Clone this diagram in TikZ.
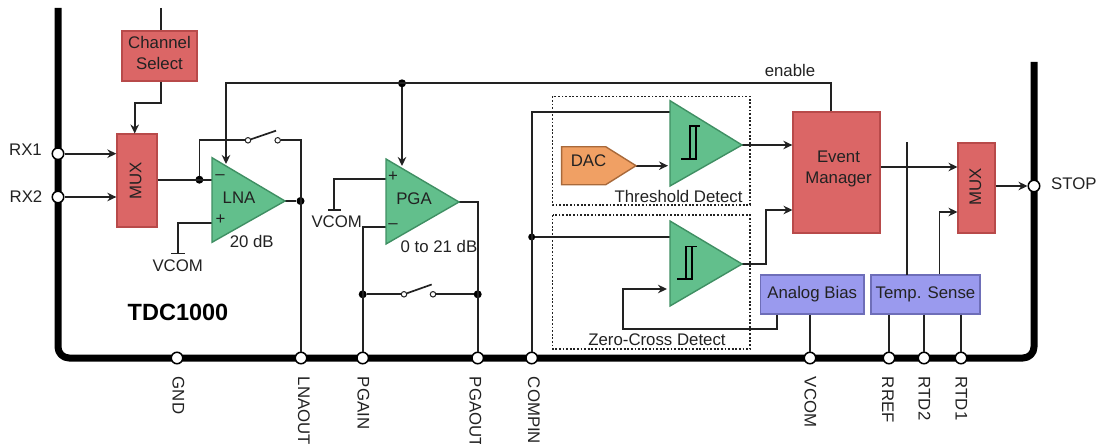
\documentclass[tikz,border=0pt]{standalone}
\usepackage{fontspec}
\setmainfont{Liberation Sans}
\usetikzlibrary{arrows.meta,calc}
\definecolor{redfill}{HTML}{DB6666}
\definecolor{redline}{HTML}{B84A4A}
\definecolor{greenfill}{HTML}{62BF8C}
\definecolor{greenline}{HTML}{3F8F63}
\definecolor{bluefill}{HTML}{9A9AEE}
\definecolor{blueline}{HTML}{6E6EB8}
\definecolor{orangefill}{HTML}{F0A064}
\definecolor{orangeline}{HTML}{A8693A}
\definecolor{ink}{HTML}{222222}
\tikzset{
  lbl/.style={font=\fontsize{16.8}{20}\selectfont,text=ink,inner sep=0pt,align=center},
  pinlbl/.style={lbl,rotate=-90,anchor=west},
  redbox/.style={draw=redline,fill=redfill,line width=1.3pt,minimum width=#1,inner sep=0pt},
  bluebox/.style={lbl,draw=blueline,fill=bluefill,line width=1.3pt,inner sep=0pt,minimum height=39pt},
  wire/.style={draw=ink,line width=1.7pt},
  arrowwire/.style={wire,-{Stealth[length=9pt,width=8.5pt]}},
  amp/.style={draw=greenline,fill=greenfill,line width=1.4pt,line join=miter},
  hyst/.style={draw=black,line width=1.2pt},
  pin/.style={circle,draw=black,fill=white,line width=1.5pt,minimum size=11.5pt,inner sep=0pt},
  dotj/.style={circle,fill=black,minimum size=8pt,inner sep=0pt},
  swc/.style={circle,draw=ink,fill=white,line width=1pt,minimum size=5.5pt,inner sep=0pt},
  dotbox/.style={draw=ink,line width=1.2pt,dash pattern=on 1.8pt off 1.8pt},
}
\begin{document}
\begin{tikzpicture}[x=1pt,y=-1pt]
\useasboundingbox (0,0) rectangle (1096,444);
\clip (0,0) rectangle (1096,444);
\draw[line width=7pt,line join=round,rounded corners=11pt] (58,8) -- (58,358) -- (1034,358) -- (1034,62);
% dotted boxes
\draw[dotbox] (552.5,96.5) rectangle (750,205);
\draw[dotbox] (552.5,215) rectangle (750,349);
% blocks
\node[redbox=75pt,minimum height=50pt] (chsel) at (159.5,56) {};
\node[redbox=40pt,minimum height=93pt] (muxa) at (137,180.5) {};
\node[redbox=87pt,minimum height=121pt] (event) at (836.5,172.5) {};
\node[redbox=37pt,minimum height=90pt] (muxb) at (976.5,188) {};
\node[bluebox,minimum width=103.5pt] (bias) at (812.2,294.5) {Analog Bias};
\node[bluebox,minimum width=109pt] (temp) at (925.5,294.5) {Temp. Sense};
% coordinates
\coordinate (chtop) at (161,8);
\coordinate (enR) at (831,83);
\coordinate (enL) at (226,83);
\coordinate (lnaTip) at (285,201);
\coordinate (pgaTip) at (459,202);
\coordinate (cmpATip) at (742,145);
\coordinate (cmpBTip) at (742,264);
% pins
\node[pin] (rx1) at (58,153.7) {};
\node[pin] (rx2) at (58,197) {};
\node[pin] (stop) at (1034,186) {};
\node[pin] (gnd) at (177,358) {};
\node[pin] (lnaout) at (301,358) {};
\node[pin] (pgain) at (362.7,358) {};
\node[pin] (pgaout) at (477.7,358) {};
\node[pin] (compin) at (531.7,358) {};
\node[pin] (vcom) at (810,358) {};
\node[pin] (rref) at (889,358) {};
\node[pin] (rtd2) at (924,358) {};
\node[pin] (rtd1) at (961,358) {};
% junctions
\node[dotj] (jin) at (199.4,179.7) {};
\node[dotj] (jout) at (300.5,201) {};
\node[dotj] (jen) at (402,83.3) {};
\node[dotj] (jpl) at (362.7,294.3) {};
\node[dotj] (jpr) at (477.7,294.3) {};
\node[dotj,minimum size=7pt] (jcmp) at (531.7,237) {};
% switches
\node[swc] (swa1) at (248,140.3) {};
\node[swc] (swa2) at (277.7,140.3) {};
\coordinate (swaL) at (276,130.7);
\node[swc] (swb1) at (404,294.3) {};
\node[swc] (swb2) at (433,294.3) {};
\coordinate (swbL) at (431.7,284.5);
% tee labels
\coordinate (teeA) at (177.7,253.5);
\coordinate (teeAl) at (171,253.5);
\coordinate (teeAr) at (184.5,253.5);
\coordinate (teeB) at (334.3,210);
\coordinate (teeBl) at (328,210);
\coordinate (teeBr) at (341,210);
% wires behind the amplifiers
\draw[wire] (chtop) -- (chsel.north -| chtop);
\draw[arrowwire] (chsel.south -| chtop) |- (134.7,102.7) -- (134.7,133.5);
\draw[arrowwire] (rx1) -- (rx1 -| muxa.west);
\draw[arrowwire] (rx2) -- (rx2 -| muxa.west);
\draw[wire] (jin -| muxa.east) -- (212,179.7);
\draw[wire] (jin) |- (swa1);
\draw[wire] (swa1) -- (swaL);
\draw[wire] (swa2) -| (lnaout);
\draw[wire] (teeA) |- (212,222.7);
\draw[wire] (teeAl) -- (teeAr);
\draw[wire] (lnaTip) -- (jout);
\draw[wire] (event.north -| enR) -- (enR) -- (enL) -- (226,150);
\draw[wire] (jen) -- (402,150);
\draw[wire] (teeB) |- (386,179);
\draw[wire] (teeBl) -- (teeBr);
\draw[wire] (386,227.3) -| (pgain);
\draw[wire] (pgaTip) -| (pgaout);
\draw[wire] (jpl) -- (swb1);
\draw[wire] (swb1) -- (swbL);
\draw[wire] (swb2) -- (jpr);
\draw[wire] (670,112) -| (compin);
\draw[wire] (jcmp) -- (670,237);
\draw[arrowwire] (636,165.7) -- (668,165.7);
\draw[arrowwire] (cmpATip) -- (cmpATip -| event.west);
\draw[arrowwire] (cmpBTip) -- (766,264) -- (766,210) -- (792.5,210);
\draw[arrowwire] (bias.south -| 777,0) |- (623,328.7) |- (667,289);
\draw[wire] (bias.south -| vcom) -- (vcom);
\draw[wire] (temp.south -| rref) -- (rref);
\draw[wire] (temp.south -| rtd2) -- (rtd2);
\draw[wire] (temp.south -| rtd1) -- (rtd1);
\draw[wire] (907,142) -- (907,275);
\draw[arrowwire] (temp.north -| 939.5,0) |- (957.5,212);
\draw[arrowwire] (event.east |- 0,167) -- (957.5,167);
\draw[arrowwire] (muxb.east |- stop) -- (stop.west);
% amplifiers
\path[amp] (212,157.7) -- (lnaTip) -- (212,242.3) -- cycle;
\path[amp] (386,159) -- (pgaTip) -- (386,244) -- cycle;
\path[amp] (670,100.7) -- (cmpATip) -- (670,186) -- cycle;
\path[amp] (670,221) -- (cmpBTip) -- (670,306) -- cycle;
\path[draw=orangeline,fill=orangefill,line width=1.4pt] (561.6,146.7) -- (605.7,146.7) -- (636,165.7) -- (605.7,184.7) -- (561.6,184.7) -- cycle;
% arrowheads that land on the amplifiers
\draw[arrowwire] (226,150) -- (226,164);
\draw[arrowwire] (402,150) -- (402,166);
% hysteresis
\draw[hyst] (681,159) -- (696,159) -- (696,126) -- (690,126) -- (690,159);
\draw[hyst] (690,126) -- (700,126);
\draw[hyst] (677,279) -- (692,279) -- (692,246.7) -- (686,246.7) -- (686,279);
\draw[hyst] (692,246.7) -- (696.6,246.7);
% labels
\node[lbl] (tch) at (159.5,53) {Channel\\[1pt]Select};
\node[lbl,rotate=90] (tmuxa) at (135.8,180.5) {MUX};
\node[lbl] (tev) at (838.5,168.5) {Event\\[1pt]Manager};
\node[lbl,rotate=90] (tmuxb) at (975.5,187) {MUX};
\node[lbl] (tdac) at (588.5,161) {DAC};
\node[lbl] (tlna) at (239,198) {LNA};
\node[lbl] (tpga) at (414,199) {PGA};
\node[lbl] (tm1) at (220,177.5) {--};
\node[lbl] (tp1) at (220.5,220) {+};
\node[lbl] (tp2) at (393,176.5) {+};
\node[lbl] (tm2) at (393,226) {--};
\node[lbl] (t20) at (251.7,241.7) {20 dB};
\node[lbl] (t21) at (439,246.7) {0 to 21 dB};
\node[lbl] (tva) at (177.7,265.7) {VCOM};
\node[lbl] (tvb) at (336.7,222) {VCOM};
\node[lbl] (tth) at (678.6,196) {Threshold Detect};
\node[lbl] (tzc) at (657,340) {Zero-Cross Detect};
\node[lbl] (ten) at (790,70) {enable};
\node[lbl] (trx1) at (25.5,150) {RX1};
\node[lbl] (trx2) at (26,197) {RX2};
\node[lbl,anchor=west] (tstop) at (1051,183.5) {STOP};
\node[lbl,font=\fontsize{23.5}{26}\selectfont\bfseries,text=black] (ttdc) at (178,312.5) {TDC1000};
\node[pinlbl] at (178.5,376.7) {GND};
\node[pinlbl] at (304,376.7) {LNAOUT};
\node[pinlbl] at (363.5,376.7) {PGAIN};
\node[pinlbl] at (475.5,376.7) {PGAOUT};
\node[pinlbl] at (534,376.7) {COMPIN};
\node[pinlbl] at (810.5,376.7) {VCOM};
\node[pinlbl] at (888,376.7) {RREF};
\node[pinlbl] at (924.5,376.7) {RTD2};
\node[pinlbl] at (961.5,376.7) {RTD1};
\end{tikzpicture}
\end{document}
